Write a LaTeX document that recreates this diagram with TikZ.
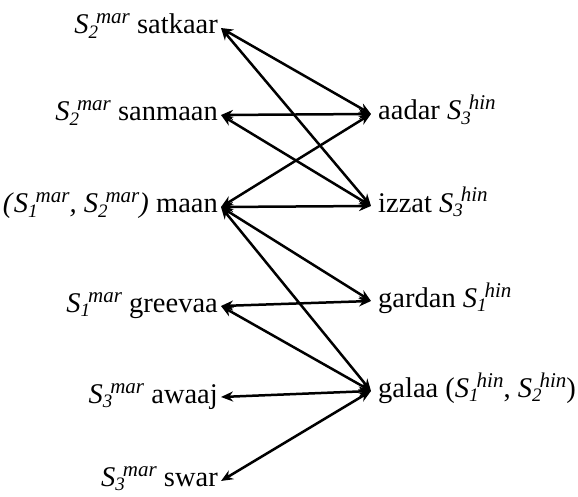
\documentclass[tikz,border=0pt]{standalone}
\usepackage{fontspec}
\setmainfont{Liberation Serif}
\usetikzlibrary{arrows.meta,calc}
\newcommand{\Sv}[2]{\textit{S}\rlap{\raisebox{-4.5pt}{\fontsize{19}{19}\selectfont\textit{#1}}}\hspace{7.5pt}\raisebox{10pt}{\fontsize{21}{21}\selectfont\textit{#2}}}
\begin{document}
\begin{tikzpicture}[x=1pt,y=-1pt,
  lbl/.style={font=\fontsize{28.5}{31}\selectfont, inner sep=0pt},
  link/.style={line width=2.5pt, {Stealth[length=12pt,width=10pt]}-{Stealth[length=12pt,width=10pt]}}]
\useasboundingbox (0,0) rectangle (578,497);
% left anchor points
\coordinate (L1) at (221,28);
\coordinate (L2) at (221,115);
\coordinate (L3) at (221,207);
\coordinate (L4) at (221,306);
\coordinate (L5) at (221,397);
\coordinate (L6) at (221,481);
% right anchor points
\coordinate (R1) at (371,114);
\coordinate (R2) at (371,206);
\coordinate (R3) at (371,301);
\coordinate (R4) at (371,391);
% left labels
\node[lbl, anchor=base east] (satkaar) at ($(L1)+(-3,6)$) {\Sv{2}{mar} satkaar};
\node[lbl, anchor=base east] (sanmaan) at ($(L2)+(-3,6)$) {\Sv{2}{mar} sanmaan};
\node[lbl, anchor=base east] (maan) at ($(L3)+(-3,6)$) {\textit{(}\Sv{1}{mar}\textit{, }\Sv{2}{mar}\textit{)} maan};
\node[lbl, anchor=base east] (greevaa) at ($(L4)+(-3,6)$) {\Sv{1}{mar} greevaa};
\node[lbl, anchor=base east] (awaaj) at ($(L5)+(-3,6)$) {\Sv{3}{mar} awaaj};
\node[lbl, anchor=base east] (swar) at ($(L6)+(-3,5)$) {\Sv{3}{mar} swar};
% right labels
\node[lbl, anchor=base west] (aadar) at ($(R1)+(7,6)$) {aadar \Sv{3}{hin}};
\node[lbl, anchor=base west] (izzat) at ($(R2)+(7,6)$) {izzat \Sv{3}{hin}};
\node[lbl, anchor=base west] (gardan) at ($(R3)+(7,6)$) {gardan \Sv{1}{hin}};
\node[lbl, anchor=base west] (galaa) at ($(R4)+(7,6)$) {galaa (\Sv{1}{hin}, \Sv{2}{hin})};
% connectors
\draw[link] (L1) -- (R1);
\draw[link] (L1) -- (R2);
\draw[link] (L2) -- (R1);
\draw[link] (L2) -- (R2);
\draw[link] (L3) -- (R1);
\draw[link] (L3) -- (R2);
\draw[link] (L3) -- (R3);
\draw[link] (L3) -- (R4);
\draw[link] (L4) -- (R3);
\draw[link] (L4) -- (R4);
\draw[link] (L5) -- (R4);
\draw[link] (L6) -- (R4);
\end{tikzpicture}
\end{document}
